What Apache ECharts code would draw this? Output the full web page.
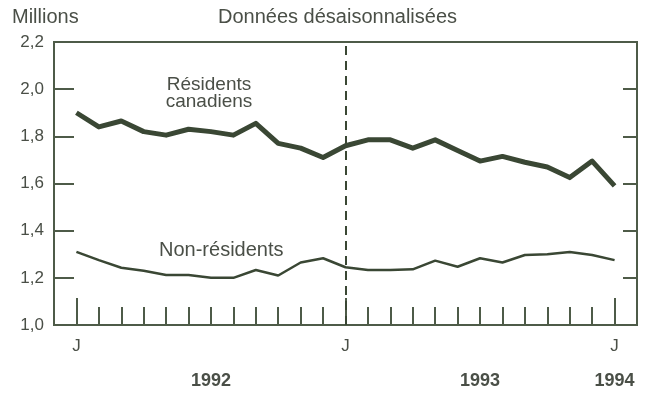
<!DOCTYPE html>
<html>
<head>
<meta charset="utf-8">
<script src="https://cdn.jsdelivr.net/npm/echarts@6/dist/echarts.min.js"></script>
<style>
  html, body { margin: 0; padding: 0; background: #fff; }
  #chart { width: 654px; height: 400px; }
</style>
</head>
<body>
<div id="chart"></div>
<script>
// Monthly index: 0 = January 1992 ... 24 = January 1994 (millions, seasonally adjusted)
const months = [0,1,2,3,4,5,6,7,8,9,10,11,12,13,14,15,16,17,18,19,20,21,22,23,24];
const residents = [1.90,1.84,1.865,1.82,1.805,1.83,1.82,1.805,1.855,1.77,1.75,1.71,
                   1.76,1.785,1.785,1.75,1.785,1.74,1.695,1.715,1.69,1.67,1.625,1.695,1.59];
const nonResidents = [1.31,1.275,1.243,1.23,1.212,1.212,1.20,1.20,1.233,1.21,1.265,1.283,
                      1.245,1.233,1.233,1.236,1.273,1.247,1.283,1.265,1.297,1.30,1.31,1.297,1.275];
const monthLabelPos = [0, 12, 24];
const monthLabel = 'J';
const yearPos = [6, 18, 24];
const yearLabels = ['1992', '1993', '1994'];

const ink = '#3a4734';
const frame = '#4e5b48';
const textCol = '#4a4f47';
const font = '"Liberation Sans", Arial, sans-serif';

const minorTicks = months.filter(m => monthLabelPos.indexOf(m) < 0);

const chart = echarts.init(document.getElementById('chart'));
chart.setOption({
  animation: false,
  backgroundColor: '#fff',
  grid: { left: 54, right: 17, top: 42, bottom: 75, show: true, borderColor: frame, borderWidth: 2 },
  xAxis: [
    {
      type: 'value', min: -1, max: 25, position: 'bottom',
      axisLine: { show: true, onZero: false, lineStyle: { color: frame, width: 2 } },
      axisTick: { show: true, inside: true, length: 18, customValues: minorTicks, lineStyle: { color: frame, width: 2 } },
      axisLabel: { show: false },
      splitLine: { show: false }
    },
    {
      type: 'value', min: -1, max: 25, position: 'bottom',
      axisLine: { show: false, onZero: false },
      axisTick: { show: true, inside: true, length: 27, customValues: monthLabelPos, lineStyle: { color: frame, width: 2 } },
      axisLabel: { show: true, customValues: monthLabelPos, formatter: () => monthLabel, margin: 13,
                   color: textCol, fontFamily: font, fontSize: 17 },
      splitLine: { show: false }
    },
    {
      type: 'value', min: -1, max: 25, position: 'bottom', offset: 39,
      axisLine: { show: false, onZero: false }, axisTick: { show: false },
      axisLabel: { show: true, customValues: yearPos,
                   formatter: v => yearLabels[yearPos.indexOf(v)],
                   color: textCol, fontFamily: font, fontSize: 18, fontWeight: 'bold' },
      splitLine: { show: false }
    }
  ],
  yAxis: [
    {
      type: 'value', min: 1.0, max: 2.2, interval: 0.2, position: 'left',
      axisLine: { show: true, onZero: false, lineStyle: { color: frame, width: 2 } },
      axisTick: { show: true, inside: true, length: 20, lineStyle: { color: frame, width: 2 } },
      axisLabel: { color: textCol, fontFamily: font, fontSize: 17, margin: 10,
                   formatter: v => v.toFixed(1).replace('.', ',') },
      splitLine: { show: false }
    },
    {
      type: 'value', min: 1.0, max: 2.2, interval: 0.2, position: 'right',
      axisLine: { show: true, onZero: false, lineStyle: { color: frame, width: 2 } },
      axisTick: { show: true, inside: true, length: 14, lineStyle: { color: frame, width: 2 } },
      axisLabel: { show: false },
      splitLine: { show: false }
    }
  ],
  series: [
    {
      name: 'Résidents canadiens', type: 'line', xAxisIndex: 0, yAxisIndex: 0,
      data: months.map((m, i) => [m, residents[i]]),
      symbol: 'none', lineStyle: { color: ink, width: 5, join: 'round' },
      markLine: {
        silent: true, symbol: 'none', label: { show: false },
        lineStyle: { color: ink, type: [9, 6], width: 2 },
        data: [[{ coord: [12, 1.0] }, { coord: [12, 2.2] }]]
      }
    },
    {
      name: 'Non-résidents', type: 'line', xAxisIndex: 0, yAxisIndex: 0,
      data: months.map((m, i) => [m, nonResidents[i]]),
      symbol: 'none', lineStyle: { color: ink, width: 2.5 }
    }
  ],
  graphic: [
    { type: 'text', style: { x: 12, y: 17, text: 'Millions', fill: textCol, font: '20px ' + font, verticalAlign: 'middle' } },
    { type: 'text', style: { x: 218, y: 17, text: 'Données désaisonnalisées', fill: textCol, font: '20px ' + font, verticalAlign: 'middle' } },
    { type: 'text', style: { x: 209, y: 85, text: 'Résidents', fill: textCol, font: '19px ' + font, align: 'center', verticalAlign: 'middle' } },
    { type: 'text', style: { x: 209, y: 102, text: 'canadiens', fill: textCol, font: '19px ' + font, align: 'center', verticalAlign: 'middle' } },
    { type: 'text', style: { x: 159, y: 250, text: 'Non-résidents', fill: textCol, font: '20px ' + font, verticalAlign: 'middle' } }
  ]
});
</script>
</body>
</html>
